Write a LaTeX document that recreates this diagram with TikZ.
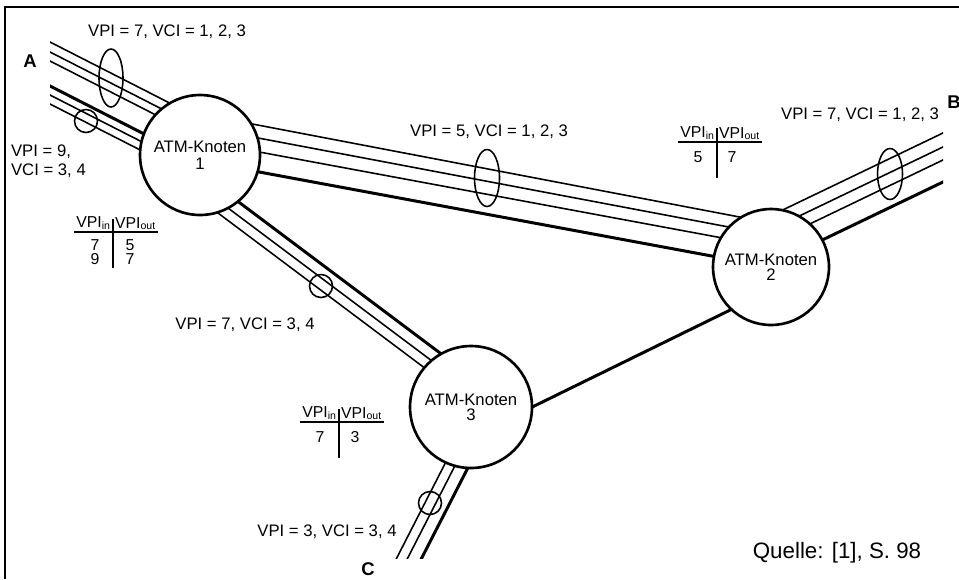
\documentclass[tikz,border=0pt]{standalone}
\usepackage{fontspec}
\setmainfont{Liberation Sans}
\usetikzlibrary{calc,backgrounds,shapes.geometric}

\begin{document}
\begin{tikzpicture}[
  x=0.02cm, y=-0.02cm,
  font=\fontsize{9.5}{11}\selectfont,
  knoten/.style={draw, circle, line width=1.5pt, fill=white, inner sep=0pt, align=center, font=\fontsize{9.5}{9.7}\selectfont},
  vc/.style={line width=0.9pt},
  vp/.style={line width=1.7pt},
  oval/.style={draw, ellipse, line width=0.9pt, inner sep=0pt},
  ring/.style={draw, circle, line width=0.9pt, inner sep=0pt, minimum size=0.46cm},
  lbl/.style={inner sep=1pt},
  tab/.style={inner sep=0pt, font=\fontsize{9}{10}\selectfont},
  ende/.style={font=\bfseries\fontsize{10.5}{12}\selectfont, inner sep=0pt}
]
  \useasboundingbox (0,0) rectangle (959,579);
  \draw[line width=1.1pt] (959,7) -- (5,7) -- (5,579);

  % ATM-Knoten
  \node[knoten, minimum size=2.4cm] (n1) at (200,155) {ATM-Knoten\\1};
  \node[knoten, minimum size=2.32cm] (n2) at (771,267) {ATM-Knoten\\[-1pt]2};
  \node[knoten, minimum size=2.44cm] (n3) at (471,407) {ATM-Knoten\\[-1pt]3};

  \coordinate (a) at (0,53);
  \coordinate (b) at (1000,157);
  \coordinate (c) at (362,620);

  % Leitungen
  \begin{pgfonlayer}{background}
    \begin{scope}
      \clip (50,0) rectangle (943,558);
      \foreach \v in {-36.5,-26.5,-17.5,16.5,25.5}
        \draw[vc] ($(a)+(0,\v)$) -- ($(n1)+(0,\v)$);
      \draw[vp] ($(a)+(0,7.5)$) -- ($(n1)+(0,7.5)$);

      \foreach \p/\q in {-41/-44,-28/-32,-14/-20}
        \draw[vc] ($(n1)+(0,\p)$) -- ($(n2)+(0,\q)$);
      \draw[vp] ($(n1)+(0,6)$) -- ($(n2)+(0,0)$);

      \foreach \v in {-51.4,-37.4,-24.4}
        \draw[vc] ($(n2)+(0,\v)$) -- ($(b)+(0,\v)$);
      \draw[vp] ($(n2)+(0,-2.4)$) -- ($(b)+(0,-2.4)$);

      \foreach \p/\q in {32/-16.75,44.5/-4.25}
        \draw[vc] ($(n1)+(0,\p)$) -- ($(n3)+(0,\q)$);
      \draw[vp] ($(n1)+(0,18)$) -- ($(n3)+(0,-30.75)$);

      \foreach \h in {3,14}
        \draw[vc] ($(n3)+(\h,0)$) -- ($(c)+(\h,0)$);
      \draw[vp] ($(n3)+(28,0)$) -- ($(c)+(28,0)$);

      \draw[vp] ($(n3)+(0,30)$) -- ($(n2)+(0,23)$);
    \end{scope}
  \end{pgfonlayer}

  % Buendel
  \node[oval, minimum width=0.48cm, minimum height=1.16cm] (ovA) at (111,78) {};
  \node[oval, minimum width=0.5cm, minimum height=1.14cm] (ov12) at (487,178) {};
  \node[oval, minimum width=0.5cm, minimum height=1.02cm] (ovB) at (890,174) {};
  \node[ring] (rA) at (86,121) {};
  \node[ring] (r13) at (321,286) {};
  \node[ring] (rC) at (430,503) {};

  \node[lbl] (lA) at (167,32) {VPI = 7, VCI = 1, 2, 3};
  \node[lbl] (l12) at (489,132) {VPI = 5, VCI = 1, 2, 3};
  \node[lbl] (lB) at (860,115) {VPI = 7, VCI = 1, 2, 3};
  \node[lbl, align=left, anchor=west] (lA2) at (9,161) {VPI = 9,\\VCI = 3, 4};
  \node[lbl] (l13) at (245,325) {VPI = 7, VCI = 3, 4};
  \node[lbl] (lC) at (327,532) {VPI = 3, VCI = 3, 4};

  \node[ende] (A) at (30,61) {A};
  \node[ende] (B) at (954,102) {B};
  \node[ende] (C) at (368,569) {C};

  \node[lbl, font=\fontsize{12.7}{14}\selectfont] (quelle) at (837,553) {Quelle: [1], S. 98};

  % Tabellen
  \node[tab, inner sep=1pt, anchor=south east] (t1in) at (113,232) {VPI\textsubscript{in}};
  \node[tab, inner sep=1pt, anchor=south west] (t1out) at (113,232) {VPI\textsubscript{out}};
  \draw[line width=0.9pt] (t1in.south west) -- (t1out.south east);
  \draw[line width=0.9pt] (113,219) -- (113,268);
  \node[tab] (t1a) at (95,245) {7};
  \node[tab] (t1b) at (130,245) {5};
  \node[tab] (t1c) at (95,259) {9};
  \node[tab] (t1d) at (130,259) {7};

  \node[tab, inner sep=1pt, anchor=south east] (t2in) at (717,142) {VPI\textsubscript{in}};
  \node[tab, inner sep=1pt, anchor=south west] (t2out) at (717,142) {VPI\textsubscript{out}};
  \draw[line width=0.9pt] (t2in.south west) -- (t2out.south east);
  \draw[line width=0.9pt] (717,128) -- (717,178);
  \node[tab] (t2a) at (698,157) {5};
  \node[tab] (t2b) at (732,157) {7};

  \node[tab, inner sep=1pt, anchor=south east] (t3in) at (339,422) {VPI\textsubscript{in}};
  \node[tab, inner sep=1pt, anchor=south west] (t3out) at (339,422) {VPI\textsubscript{out}};
  \draw[line width=0.9pt] (t3in.south west) -- (t3out.south east);
  \draw[line width=0.9pt] (339,409) -- (339,458);
  \node[tab] (t3a) at (320,437) {7};
  \node[tab] (t3b) at (355,437) {3};
\end{tikzpicture}
\end{document}
